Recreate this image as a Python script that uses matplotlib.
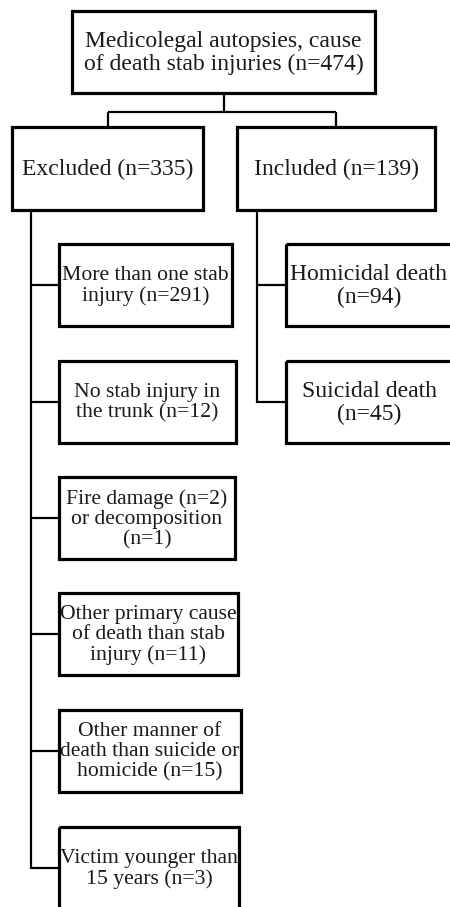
import matplotlib
matplotlib.use("Agg")
import matplotlib.pyplot as plt
from matplotlib.patches import Rectangle

# ---- data ----
total_label = "Medicolegal autopsies, cause\nof death stab injuries (n={})"
total_n = 474
group_labels = ["Excluded (n={})", "Included (n={})"]
group_n = [335, 139]
excluded_labels = [
    "More than one stab\ninjury (n={})",
    "No stab injury in\nthe trunk (n={})",
    "Fire damage (n={})\nor decomposition\n(n={})",
    "Other primary cause\nof death than stab\ninjury (n={})",
    "Other manner of\ndeath than suicide or\nhomicide (n={})",
    "Victim younger than\n15 years (n={})",
]
excluded_n = [[291], [12], [2, 1], [11], [15], [3]]
included_labels = ["Homicidal death\n(n={})", "Suicidal death\n(n={})"]
included_n = [94, 45]

# ---- layout (pixel coordinates) ----
W, H = 450, 907
fig = plt.figure(figsize=(W / 100, H / 100), dpi=100)
ax = fig.add_axes([0, 0, 1, 1])
ax.set_xlim(0, W)
ax.set_ylim(H, 0)
ax.axis("off")

FONT = "Liberation Serif"
FS_BIG = 17.0
FS_SMALL = 15.6
BOX_LW = 2.3
LINE_LW = 1.6
TXT = "#1a1a1a"

def box(x0, y0, x1, y1, text, fs, ls, tx=None):
    ax.add_patch(Rectangle((x0, y0), x1 - x0, y1 - y0, fill=False,
                           edgecolor="black", linewidth=BOX_LW, zorder=2))
    cx = (x0 + x1) / 2 if tx is None else tx
    ax.text(cx, (y0 + y1) / 2 + 1, text, ha="center", va="center",
            family=FONT, fontsize=fs, color=TXT, linespacing=ls, zorder=3)

def line(xs, ys):
    ax.plot(xs, ys, color="black", linewidth=LINE_LW, solid_capstyle="butt", zorder=1)

# top box
box(72, 11, 375, 93, total_label.format(total_n), FS_BIG, 1.09)
# group boxes
group_boxes = [(12, 127, 203, 210), (237, 127, 435, 210)]
for (x0, y0, x1, y1), lab, n in zip(group_boxes, group_labels, group_n):
    box(x0, y0, x1, y1, lab.format(n), FS_BIG, 1.0)

# bracket
cx_top = (72 + 375) / 2
cx_l = (12 + 203) / 2
cx_r = (237 + 435) / 2
line([cx_top, cx_top], [93, 112])
line([cx_l, cx_r], [112, 112])
line([cx_l, cx_l], [112, 127])
line([cx_r, cx_r], [112, 127])

# excluded sub-boxes
ex_left = 59
ex_rights = [232, 236, 235, 238, 241, 239]
ex_tops = [244, 361, 477, 593, 710, 827]
box_h = 82
spine_l = 31
mids = []
for lab, ns, r, t in zip(excluded_labels, excluded_n, ex_rights, ex_tops):
    box(ex_left, t, r, t + box_h, lab.format(*ns), FS_SMALL, 1.08)
    m = t + box_h / 2
    mids.append(m)
    line([spine_l, ex_left], [m, m])
line([spine_l, spine_l], [210, mids[-1] + 0.8])

# included sub-boxes
in_left, in_right = 286, 453
in_tops = [244, 361]
spine_r = 257
imids = []
for lab, n, t in zip(included_labels, included_n, in_tops):
    box(in_left, t, in_right, t + box_h, lab.format(n), FS_BIG, 1.12, tx=369)
    m = t + box_h / 2
    imids.append(m)
    line([spine_r, in_left], [m, m])
line([spine_r, spine_r], [210, imids[-1] + 0.8])

fig.savefig("out.png", dpi=100, facecolor="white")
